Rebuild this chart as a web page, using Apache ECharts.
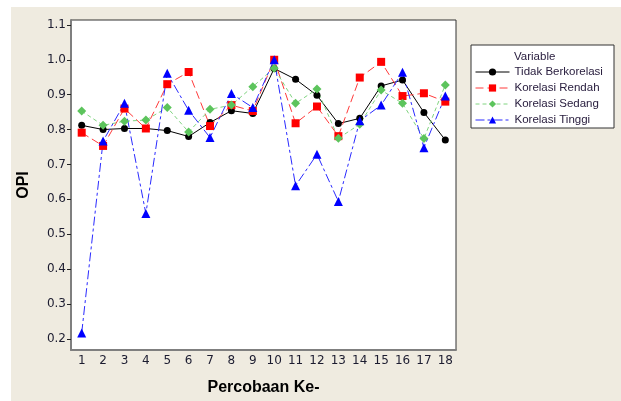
<!DOCTYPE html>
<html>
<head>
<meta charset="utf-8">
<script src="https://cdn.jsdelivr.net/npm/echarts@6/dist/echarts.min.js"></script>
<style>
html,body{margin:0;padding:0;background:#fff;}
#c{width:621px;height:401px;}
</style>
</head>
<body>
<div id="c"></div>
<script>
const categories = ['1','2','3','4','5','6','7','8','9','10','11','12','13','14','15','16','17','18'];
const yTicks = [0.2,0.3,0.4,0.5,0.6,0.7,0.8,0.9,1.0,1.1];
const tidakBerkorelasi = [0.812,0.800,0.803,0.803,0.797,0.780,0.820,0.854,0.846,0.975,0.944,0.898,0.817,0.832,0.925,0.942,0.849,0.770];
const korelasiRendah   = [0.791,0.753,0.860,0.803,0.930,0.965,0.810,0.870,0.853,1.000,0.818,0.866,0.781,0.949,0.994,0.896,0.904,0.880];
const korelasiSedang   = [0.853,0.812,0.824,0.827,0.863,0.793,0.858,0.870,0.923,0.976,0.875,0.916,0.775,0.815,0.913,0.875,0.774,0.928];
const korelasiTinggi   = [0.217,0.767,0.875,0.559,0.961,0.855,0.777,0.903,0.863,1.000,0.639,0.729,0.594,0.825,0.870,0.964,0.748,0.896];

const chart = echarts.init(document.getElementById('c'), null, {renderer:'canvas'});
const tickFont = {fontFamily:'DejaVu Sans', fontSize:12, color:'#1c1c30'};
const mk = (name, data, lineColor, markColor, dash, symbol, size) => ({
  name, type:'line', data, symbol, symbolSize:size,
  lineStyle:{color:lineColor, width:1, type:dash},
  itemStyle:{color:markColor},
  emphasis:{disabled:true}, animation:false
});
chart.setOption({
  animation:false,
  backgroundColor:'#ffffff',
  graphic:[
    {type:'rect', shape:{x:11,y:7,width:610,height:394}, style:{fill:'#efebe0'}, z:-10, silent:true},
    {type:'rect', shape:{x:471,y:45,width:143,height:83}, style:{fill:'#ffffff', stroke:'#333', lineWidth:1}, z:0, silent:true},
    {type:'text', x:514, y:57, style:{text:'Variable', fontFamily:'Liberation Sans', fontSize:11.5, fill:'#2b2040', verticalAlign:'middle'}, z:1}
  ],
  grid:{left:71, right:165, top:20, bottom:51, show:true, backgroundColor:'#ffffff', borderColor:'#333', borderWidth:1},
  legend:{
    orient:'vertical', left:475, top:64, padding:0, itemWidth:34, itemHeight:9, itemGap:0,
    lineStyle:{width:1},
    textStyle:{fontFamily:'Liberation Sans', fontSize:11.5, color:'#2b2040', lineHeight:16},
    data:['Tidak Berkorelasi','Korelasi Rendah','Korelasi Sedang','Korelasi Tinggi'],
    selectedMode:false, z:5
  },
  xAxis:{
    type:'category', data:categories, boundaryGap:true,
    name:'Percobaan Ke-', nameLocation:'middle', nameGap:30,
    nameTextStyle:{fontFamily:'Liberation Sans', fontSize:16, fontWeight:'bold', color:'#000', verticalAlign:'top'},
    axisLine:{lineStyle:{color:'#7f7f7f', width:2}},
    axisTick:{alignWithLabel:true, length:4, lineStyle:{color:'#222'}},
    axisLabel:Object.assign({margin:5, interval:0}, tickFont),
    splitLine:{show:false}
  },
  yAxis:{
    type:'value', min:0.168, max:1.114,
    name:'OPI', nameLocation:'middle', nameGap:39, nameRotate:90,
    nameTextStyle:{fontFamily:'Liberation Sans', fontSize:16, fontWeight:'bold', color:'#000'},
    axisLine:{show:true, lineStyle:{color:'#7f7f7f', width:2}},
    axisTick:{show:true, length:4, customValues:yTicks, lineStyle:{color:'#222'}},
    axisLabel:Object.assign({margin:5, customValues:yTicks, formatter:v=>v.toFixed(1)}, tickFont),
    splitLine:{show:false}
  },
  series:[
    mk('Tidak Berkorelasi', tidakBerkorelasi, '#000000', '#000000', 'solid', 'circle', 7),
    mk('Korelasi Rendah', korelasiRendah, '#ff3a3a', '#ff0000', [8,4], 'rect', 8),
    mk('Korelasi Sedang', korelasiSedang, '#80d480', '#5cc45c', [4,3], 'diamond', 9),
    mk('Korelasi Tinggi', korelasiTinggi, '#2a2aff', '#0000ff', [9,3,3,3], 'triangle', 9)
  ]
});
</script>
</body>
</html>
